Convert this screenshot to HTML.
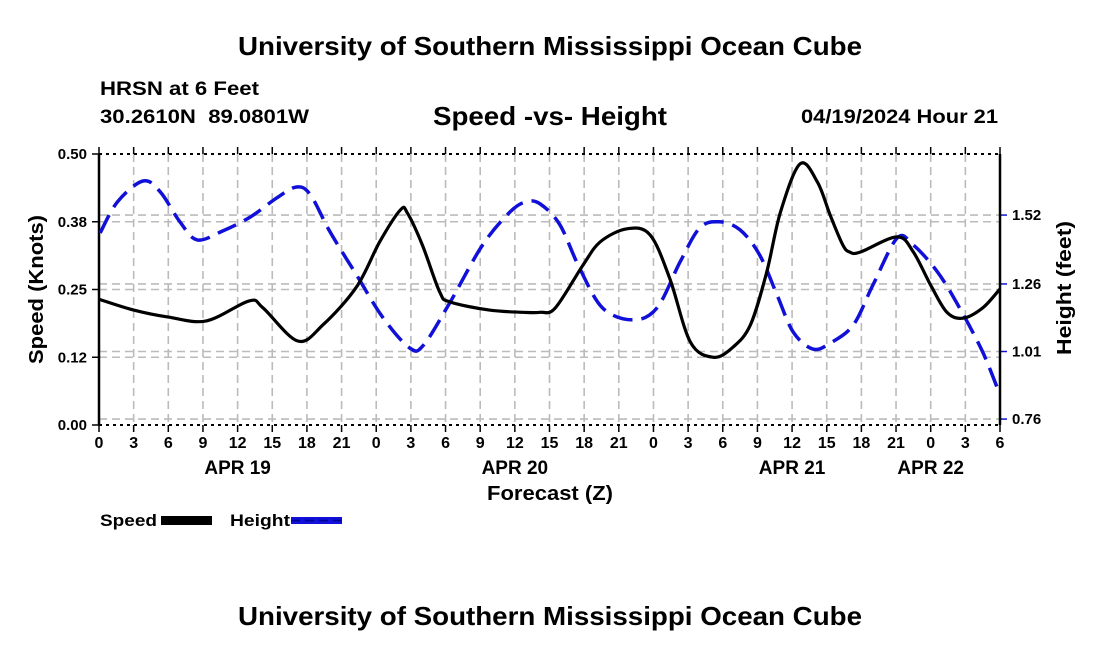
<!DOCTYPE html>
<html><head><meta charset="utf-8"><style>
html,body{margin:0;padding:0;background:#fff;}
svg{display:block;font-family:"Liberation Sans",sans-serif;font-weight:bold;}
</style></head><body>
<svg id="chart" width="1100" height="650" viewBox="0 0 1100 650">
<text x="238" y="55" font-size="26" textLength="624" lengthAdjust="spacingAndGlyphs">University of Southern Mississippi Ocean Cube</text>
<text x="100" y="95" font-size="19" textLength="159" lengthAdjust="spacingAndGlyphs">HRSN at 6 Feet</text>
<text x="100" y="123" font-size="19" textLength="209" lengthAdjust="spacingAndGlyphs" xml:space="preserve">30.2610N  89.0801W</text>
<text x="433" y="125" font-size="26" textLength="234" lengthAdjust="spacingAndGlyphs">Speed -vs- Height</text>
<text x="801" y="123" font-size="19" textLength="197" lengthAdjust="spacingAndGlyphs">04/19/2024 Hour 21</text>
<g id="grid"></g>
<g id="axes"></g>
<g id="series"></g>
<text transform="translate(43,364) rotate(-90)" font-size="20" textLength="149" lengthAdjust="spacingAndGlyphs">Speed (Knots)</text>
<text transform="translate(1071,355) rotate(-90)" font-size="20" textLength="134" lengthAdjust="spacingAndGlyphs">Height (feet)</text>
<text x="487" y="500" font-size="20" textLength="126" lengthAdjust="spacingAndGlyphs">Forecast (Z)</text>
<g>
<text x="100" y="526" font-size="17" textLength="57" lengthAdjust="spacingAndGlyphs">Speed</text>
<rect x="161" y="516" width="51" height="9" fill="#000"/>
<text x="230" y="526" font-size="17" textLength="60" lengthAdjust="spacingAndGlyphs">Height</text>
<rect x="291" y="517" width="51" height="7" fill="#1010d8"/>
<line x1="291" y1="520.5" x2="342" y2="520.5" stroke="#000090" stroke-width="1.5" stroke-dasharray="9,5"/>
</g>
<text x="238" y="625" font-size="26" textLength="624" lengthAdjust="spacingAndGlyphs">University of Southern Mississippi Ocean Cube</text>
</svg>
<script>
const xTickLabels=["0","3","6","9","12","15","18","21","0","3","6","9","12","15","18","21","0","3","6","9","12","15","18","21","0","3","6"];
const dayLabels=["APR 19","APR 20","APR 21","APR 22"];
const dayHours=[12,36,60,72];
const leftTicks=[0,0.125,0.25,0.375,0.5];
const leftTickLabels=["0.00","0.12","0.25","0.38","0.50"];
const rightTicks=[0.76,1.01,1.26,1.515];
const rightTickLabels=["0.76","1.01","1.26","1.52"];
const speedHours=[0,3,6,9.3,13,14.2,17.2,19.4,22.3,24.3,26.1,26.7,28,29.5,30.4,33.8,36.7,38.2,39.5,41.9,43.4,45.7,47.7,49.4,51.2,53.2,54.9,56.4,57.8,59,60.7,62.2,63.3,64.4,65,65.9,69.1,70.5,72,73.4,74.8,76.5,78];
const speedValues=[0.232,0.212,0.199,0.192,0.229,0.216,0.155,0.185,0.255,0.338,0.397,0.391,0.332,0.245,0.227,0.212,0.208,0.208,0.216,0.295,0.338,0.362,0.351,0.271,0.153,0.125,0.144,0.185,0.282,0.393,0.482,0.448,0.387,0.332,0.319,0.319,0.347,0.319,0.258,0.208,0.197,0.216,0.251];
const heightHours=[0.1,1.6,3.8,5.3,7,8.5,10.7,13.1,15.4,17.1,18.3,20,22.3,24.6,26.9,28.1,30.4,33.2,35.6,37,38.2,39.9,41.6,43.6,46.2,48.3,50.3,52,53.7,55.5,57.2,58.7,60.1,61.8,63.3,65.3,67,69.1,70.5,72.6,74.5,76.5,78];
const heightValues=[1.449,1.564,1.641,1.601,1.490,1.423,1.456,1.508,1.579,1.619,1.590,1.453,1.293,1.134,1.023,1.034,1.193,1.404,1.527,1.564,1.556,1.479,1.319,1.171,1.127,1.171,1.341,1.467,1.490,1.460,1.367,1.219,1.082,1.019,1.041,1.108,1.256,1.430,1.404,1.304,1.171,1.008,0.849];

const X0=99,X1=1000,YT=154,YB=425,HMAX=78;
const xs=h=>X0+(X1-X0)*h/HMAX;
const yL=v=>YB-(YB-YT)*v/0.5;
const RMIN=0.738,RMAX=1.741;
const yR=v=>YB-(YB-YT)*(v-RMIN)/(RMAX-RMIN);
const NS="http://www.w3.org/2000/svg";
function mk(tag,attrs,parent,txt){const e=document.createElementNS(NS,tag);for(const k in attrs)e.setAttribute(k,attrs[k]);if(txt!==undefined)e.textContent=txt;parent.appendChild(e);return e;}
const grid=document.getElementById('grid'),axes=document.getElementById('axes'),series=document.getElementById('series');
const gs={stroke:"#bbb","stroke-width":"1.6","stroke-dasharray":"8,5",fill:"none"};
xTickLabels.forEach((l,i)=>{const x=xs(i*3);
 if(i>0&&i<xTickLabels.length-1){const g=mk('line',Object.assign({x1:x,y1:YT,x2:x,y2:YB},gs),grid);
 
 }
 mk('line',{x1:x,y1:YB,x2:x,y2:YB+7,stroke:"#000","stroke-width":1.5},axes);
 mk('line',{x1:x,y1:YT,x2:x,y2:YT-7,stroke:"#000","stroke-width":1.5},axes);
 const t=mk('text',{x:x,y:448,"text-anchor":"middle","font-size":16},axes,l);
 
 
});
dayLabels.forEach((l,i)=>{const t=mk('text',{x:xs(dayHours[i]),y:474,"text-anchor":"middle","font-size":19},axes,l);
 
 });
leftTicks.forEach((v,i)=>{const y=yL(v);
 if(i>0&&i<leftTicks.length-1){const g=mk('line',Object.assign({x1:X0,y1:y,x2:X1,y2:y},gs),grid);
 
 }
 mk('line',{x1:X0-7,y1:y,x2:X0,y2:y,stroke:"#000","stroke-width":1.5},axes);
 const t=mk('text',{x:X0-12,y:y+5,"text-anchor":"end","font-size":15},axes,leftTickLabels[i]);
 
 });
rightTicks.forEach((v,i)=>{const y=yR(v);
 const g=mk('line',Object.assign({x1:X0,y1:y,x2:X1,y2:y},gs),grid);
 
 
 mk('line',{x1:X1,y1:y,x2:X1+7,y2:y,stroke:"#1010d8","stroke-width":1.5},axes);
 const t=mk('text',{x:X1+12,y:y+5,"font-size":15},axes,rightTickLabels[i]);
 
 });
mk('line',{x1:X0,y1:YT,x2:X1,y2:YT,stroke:"#000","stroke-width":2,"stroke-dasharray":"3,4"},axes);
mk('line',{x1:X0,y1:YB,x2:X1,y2:YB,stroke:"#000","stroke-width":2,"stroke-dasharray":"3,4"},axes);
mk('line',{x1:X0,y1:YT,x2:X0,y2:YB,stroke:"#000","stroke-width":2.5},axes);
mk('line',{x1:X1,y1:YT,x2:X1,y2:YB,stroke:"#000","stroke-width":2.5},axes);
function smooth(pts){let d=`M${pts[0][0]},${pts[0][1]}`;
 for(let i=0;i<pts.length-1;i++){const p0=pts[i-1]||pts[i],p1=pts[i],p2=pts[i+1],p3=pts[i+2]||p2;
  const c1=[p1[0]+(p2[0]-p0[0])/6,p1[1]+(p2[1]-p0[1])/6],c2=[p2[0]-(p3[0]-p1[0])/6,p2[1]-(p3[1]-p1[1])/6];
  d+=` C${c1[0].toFixed(1)},${c1[1].toFixed(1)} ${c2[0].toFixed(1)},${c2[1].toFixed(1)} ${p2[0].toFixed(1)},${p2[1].toFixed(1)}`;}
 return d;}
const hp=mk('path',{d:smooth(heightHours.map((h,i)=>[xs(h),yR(heightValues[i])])),fill:"none",stroke:"#1010d8","stroke-width":3.5,"stroke-dasharray":"20,9"},series);


const sp=mk('path',{d:smooth(speedHours.map((h,i)=>[xs(h),yL(speedValues[i])])),fill:"none",stroke:"#000","stroke-width":3.2},series);


</script>
</body></html>
